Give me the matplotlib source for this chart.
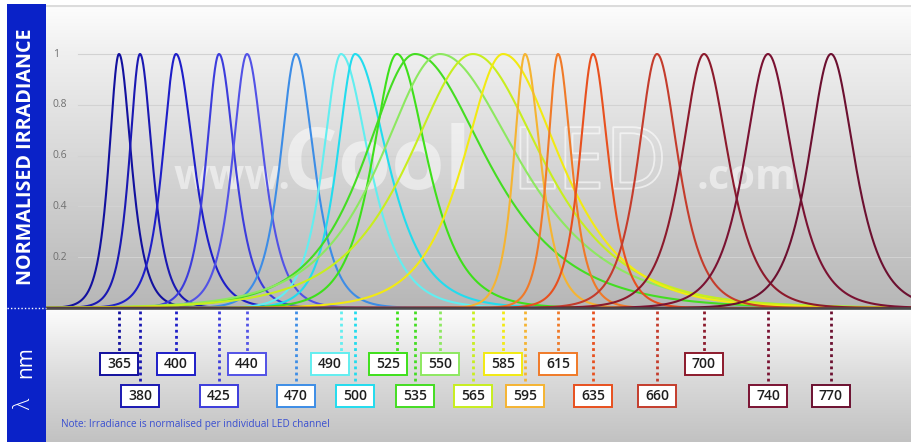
import numpy as np
import matplotlib.pyplot as plt
import matplotlib.patheffects as pe
from matplotlib.patches import Rectangle
from matplotlib.colors import LinearSegmentedColormap

plt.rcParams['font.family'] = ['Open Sans', 'DejaVu Sans']

# LED channels (nm) and where each peak sits on the chart's (non-linear) x axis
wavelengths = [365, 380, 400, 425, 440, 470, 490, 500, 525, 535,
               550, 565, 585, 595, 615, 635, 660, 700, 740, 770]
peak_pos = [119, 140, 176, 219, 247, 296, 341, 355, 397, 415,
            440, 473, 503, 525, 558, 593, 657, 704, 768, 831]
# spread of each peak to the left / right (same x units)
width_left = [9, 9.5, 12, 11.5, 13, 14, 16, 16, 22, 45,
              53, 57, 35, 10, 9.5, 12, 17, 20, 21, 20]
width_right = [11, 11, 16, 14, 15, 16, 25, 29, 27, 64,
               70, 62, 51, 14, 12, 14, 19, 22, 22, 21]
label_row = [0, 1, 0, 1, 0, 1, 0, 1, 0, 1,
             0, 1, 0, 1, 0, 1, 1, 0, 1, 1]
colours = ['#12109e', '#1a18b2', '#1e1ec8', '#3c3cdc', '#5252e6', '#3d8de6',
           '#62eef0', '#22dcee', '#3ee01a', '#44dd22', '#8de860', '#c8ee1e',
           '#f2ea12', '#f5b432', '#f07a28', '#e8501e', '#c43c2c', '#8c1a2c',
           '#7a1232', '#6c1030']
label_shift = {490: -11, 525: -9}

y_ticks = [0.2, 0.4, 0.6, 0.8, 1]
y_tick_labels = ['0.2', '0.4', '0.6', '0.8', '1']

fig = plt.figure(figsize=(9.12, 4.42), dpi=100)
fig.patch.set_facecolor('white')
ax = fig.add_axes([46 / 912, 0, 866 / 912, 437 / 442])
ytop, ybot = 1.193, -0.5276
ax.set_xlim(46, 912)
ax.set_ylim(ybot, ytop)
ax.axis('off')

# backgrounds
upper = LinearSegmentedColormap.from_list('u', [(0, '#b7b7b7'), (0.2, '#c4c4c4'), (0.5, '#d8d8d8'),
                                               (0.85, '#f0f0f0'), (1, '#fdfdfd')])
lower = LinearSegmentedColormap.from_list('l', [(0, '#c2c2c2'), (0.45, '#d9d9d9'), (1, '#fdfdfd')])
grad = np.linspace(0, 1, 256).reshape(-1, 1)
ax.imshow(grad, extent=[46, 912, 0, ytop], origin='lower', aspect='auto', cmap=upper, zorder=0)
ax.imshow(grad, extent=[46, 912, ybot, 0], origin='lower', aspect='auto', cmap=lower, zorder=0)
ax.axhline(ytop - 0.004, color='#dcdcdc', lw=1.5, zorder=1)

# gridlines and tick labels
for t, lab in zip(y_ticks, y_tick_labels):
    ax.plot([78, 912], [t, t], color='#d2d2d2', lw=0.8, zorder=1)
    ax.text(53, t, lab, color='#707070', fontsize=7.5, va='center', ha='left', zorder=2)

# watermark
wm = dict(color='white', alpha=0.5, fontweight='bold', zorder=1.5, va='baseline')
ax.text(174, 0.47, 'www.', fontsize=30, **wm)
ax.text(283, 0.47, 'Cool', fontsize=62, **wm)
ax.text(512, 0.47, 'LED', fontsize=62, color='none', zorder=1.5, va='baseline',
        path_effects=[pe.withStroke(linewidth=1.3, foreground=(1, 1, 1, 0.6))])
ax.text(697, 0.47, '.com', fontsize=30, **wm)

# spectra
x = np.linspace(46, 912, 3000)
for pk, wl, wr, c in zip(peak_pos, width_left, width_right, colours):
    dx = x - pk
    w = np.where(dx < 0, wl, wr)
    y = 1 / np.cosh(dx / w)
    ax.plot(x, y, color=c, lw=1.5, zorder=3, solid_capstyle='round')

ax.axhline(0, color='#4a4a4a', lw=1.8, zorder=4)

# labels below the axis
row_y = [-0.2205, -0.3465]
box_h = 0.088
for wl, pk, row, c in zip(wavelengths, peak_pos, label_row, colours):
    yc = row_y[row]
    ax.plot([pk, pk], [-0.01, yc + box_h / 2], color=c, lw=2, ls=(0, (1, 1.2)), zorder=2)
    bx = pk + label_shift.get(wl, 0)
    ax.add_patch(Rectangle((bx - 19, yc - box_h / 2), 38, box_h, facecolor='white',
                           edgecolor=c, lw=1.4, alpha=1, zorder=5))
    ax.text(bx, yc, str(wl), ha='center', va='center', fontsize=10, fontweight='semibold',
            color='#1e1e1e', zorder=6)

ax.text(61, -0.457, 'Note: Irradiance is normalised per individual LED channel',
        color='#3a4fd0', fontsize=7.2, va='center', ha='left', zorder=6)

# blue side bar
fig.add_artist(Rectangle((7 / 912, 0), 39 / 912, 438 / 442, transform=fig.transFigure,
                         facecolor='#0a22c8', edgecolor='none'))
fig.add_artist(plt.Line2D([7 / 912, 46 / 912], [134 / 442, 134 / 442], transform=fig.transFigure,
                          color='white', lw=1, ls=(0, (1, 1.5))))
fig.text(26 / 912, 1 - 157 / 442, 'NORMALISED IRRADIANCE', rotation=90, color='white',
         fontsize=14.2, fontweight='bold', ha='center', va='center')
fig.text(26 / 912, 1 - 362 / 442, 'nm', rotation=90, color='white',
         fontsize=15, ha='center', va='center')
fig.text(25 / 912, 1 - 404 / 442, 'λ', rotation=90, color='white',
         fontsize=16, fontweight='light', ha='center', va='center')

fig.savefig('out.png', dpi=100)
